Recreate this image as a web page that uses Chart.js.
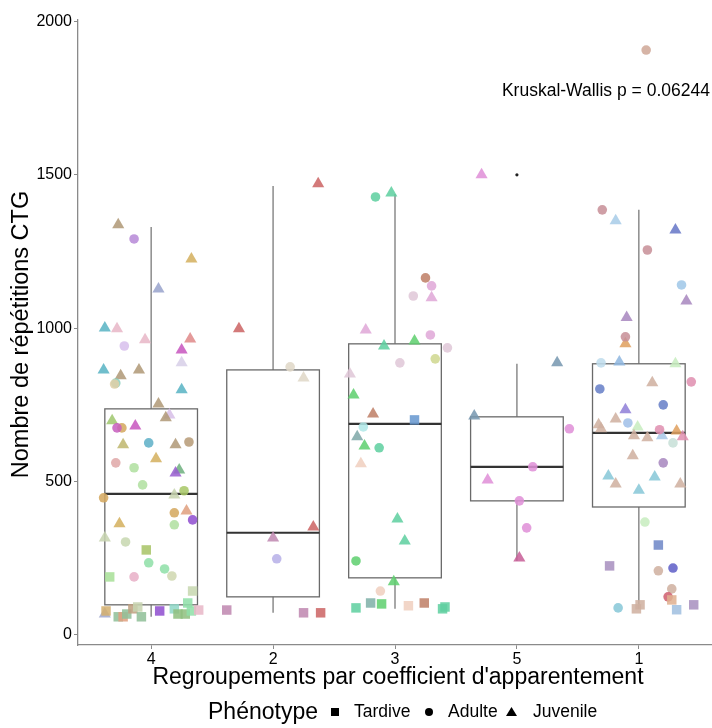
<!DOCTYPE html>
<html>
<head>
<meta charset="utf-8">
<script src="https://cdn.jsdelivr.net/npm/chart.js@4.4.1/dist/chart.umd.min.js"></script>
<style>
  html, body { margin: 0; padding: 0; background: #fff; }
  canvas { display: block; }
</style>
</head>
<body>
<canvas id="canvas" width="712" height="728"></canvas>
<script>
// groupes (ordre d'affichage) et statistiques des boites
var groupLabels = ['4', '2', '3', '5', '1'];
var boxLow = [59, 72, 85, 241, 85];
var boxQ1 = [98, 124, 186, 437, 417];
var boxMedian = [460, 333, 688, 548, 659];
var boxQ3 = [737, 864, 949, 711, 884];
var boxHigh = [1330, 1464, 1438, 884, 1386];
var outlierX = [4];
var outlierY = [1500];
var yTicks = [0, 500, 1000, 1500, 2000];

// Tardive (carres)
var tardiveX = [0.63, 0.73, 0.77, 0.80, 0.85, 0.89, 0.92, 1.07, 1.19, 1.22, 1.28, 1.30, 1.33, 1.39, 0.96, 0.66, 1.34,
  1.62, 2.25, 2.39,
  2.68, 2.80, 2.89, 3.11, 3.24, 3.39, 3.41, 3.16,
  5.16, 4.76, 5.27, 4.98, 5.01, 5.31, 5.45];
var tardiveY = [78, 59, 59, 68, 85, 91, 59, 78, 85, 68, 68, 104, 78, 81, 277, 189, 143,
  81, 72, 72,
  88, 104, 101, 95, 104, 85, 91, 701,
  293, 225, 114, 85, 98, 82, 98];
var tardiveColors = ['#d4b070', '#90c098', '#e0a080', '#90c098', '#c0a080', '#c8d4b0', '#90c098', '#9050d0', '#90d8c8', '#90c080', '#90c080', '#90e0a8', '#90e0a8', '#e8b8c8', '#a8c468', '#a8e098', '#c8d8b0',
  '#c088b0', '#c088b0', '#cc6666',
  '#60d0a0', '#80b0a8', '#60d070', '#f0d0c0', '#c08068', '#60d0a0', '#60d0a0', '#6898d0',
  '#7088c8', '#a890c0', '#e0b090', '#d0b0a0', '#d0b0a0', '#a0c0e0', '#a890c0'];

// Adulte (ronds)
var adulteX = [0.86, 0.78, 0.71, 0.70, 0.76, 0.72, 0.98, 1.31, 0.71, 0.86, 0.93, 1.27, 0.61, 1.19, 1.34, 1.19, 0.79, 0.98, 1.11, 1.17, 0.86,
  2.14, 2.03,
  2.84, 3.25, 3.30, 3.15, 3.29, 3.43, 3.04, 3.33, 2.74, 2.87, 2.68, 2.88,
  4.43, 4.13, 4.02, 4.08,
  5.06, 4.70, 5.07, 5.35, 4.89, 4.69, 5.43, 4.68, 5.20, 4.91, 5.17, 5.28, 5.20, 5.05, 5.16, 5.28, 5.27, 5.24, 4.83];
var adulteY = [1291, 942, 821, 818, 675, 675, 626, 629, 561, 545, 489, 470, 447, 398, 375, 359, 303, 235, 215, 192, 189,
  874, 248,
  1428, 1164, 1138, 1105, 978, 936, 887, 900, 678, 610, 241, 143,
  672, 548, 437, 349,
  1907, 1386, 1255, 1141, 972, 887, 825, 802, 750, 691, 669, 626, 561, 368, 209, 218, 150, 124, 88];
var adulteColors = ['#b88ad8', '#d8c0ec', '#88d0c0', '#e0d0a8', '#d4a860', '#c860c0', '#60b0c8', '#b89c78', '#e0a8a8', '#b0e0a0', '#b0e0a0', '#a8c868', '#d4a860', '#d4a860', '#9050d0', '#b0e0a0', '#c8d8b0', '#90e0a8', '#90e0a8', '#d0d8b0', '#e8b0c8',
  '#e0d8c8', '#b8b0e8',
  '#60d0a0', '#c08068', '#e0a8d8', '#e0c8d8', '#e0a8d8', '#e0c8d8', '#e0c8d8', '#d0d890', '#b0e8e8', '#60d0a0', '#60d070', '#f0d0c0',
  '#e090d8', '#e090d8', '#e090d8', '#e090d8',
  '#d0a898', '#c89098', '#c89098', '#a0c8e8', '#c89098', '#c0dcec', '#e090b0', '#6880c8', '#6880c8', '#a0c0e8', '#e090b0', '#c8e0d8', '#a888c0', '#c8ecc0', '#d0b0a0', '#6060c8', '#d0b0a0', '#d06070', '#88c8d8'];

// Juvenile (triangles)
var juvenileX = [0.73, 1.33, 1.06, 0.62, 0.72, 0.95, 1.32, 1.25, 1.25, 0.61, 0.75, 0.90, 1.25, 1.06, 1.15, 1.12, 0.68, 0.87, 0.77, 1.20, 1.04, 1.23, 1.20, 1.19, 1.29, 0.74, 0.62, 0.62,
  2.37, 1.72, 2.25, 2.33, 2.00,
  2.97, 2.76, 2.91, 3.16, 3.30, 2.63, 2.66, 2.82, 2.69, 2.75, 2.72, 3.02, 3.08, 2.99,
  3.71, 4.33, 3.65, 3.76, 4.02,
  4.81, 5.30, 5.39, 4.90, 4.89, 4.84, 5.30, 5.11, 4.89, 4.81, 4.67, 4.69, 4.99, 5.31, 5.36, 5.19, 4.96, 5.07, 4.95, 4.75, 5.13, 4.81, 5.34, 5.00];
var juvenileY = [1337, 1226, 1128, 1001, 998, 962, 965, 929, 887, 864, 845, 864, 799, 753, 717, 708, 698, 681, 620, 620, 574, 538, 528, 456, 404, 362, 316, 68,
  1471, 998, 838, 352, 316,
  1441, 994, 942, 958, 1099, 851, 782, 720, 646, 616, 558, 378, 306, 173,
  1500, 887, 714, 505, 251,
  1350, 1320, 1089, 1035, 949, 890, 884, 822, 734, 704, 685, 672, 678, 665, 646, 649, 649, 643, 584, 518, 515, 492, 492, 472];
var juvenileColors = ['#b09a78', '#d4b060', '#9aa4cc', '#5ab4c4', '#e8b8c8', '#e8b8c8', '#e08a8a', '#c858c0', '#d8d0e8', '#5ab4c4', '#b09a78', '#b09a78', '#5ab4c4', '#b09a78', '#d8c0e8', '#b09a78', '#a0c870', '#c858c0', '#c0b870', '#b09a78', '#d4b060', '#70b080', '#9a60d0', '#c8d4b0', '#e0a080', '#d4b060', '#c8d4b0', '#a0a8d0',
  '#cc6666', '#cc6666', '#e0d8c8', '#cc6666', '#c088b0',
  '#60d0a0', '#e0a8d8', '#60d0a0', '#60d070', '#e0a8d8', '#e0c8d8', '#60d070', '#c08068', '#80a8a8', '#60d070', '#f0d0c0', '#60d0a0', '#60d0a0', '#60d070',
  '#e090d8', '#7898b0', '#7898b0', '#e090d8', '#c86098',
  '#a8cce8', '#6878c8', '#a888c0', '#a888c0', '#e0a060', '#90b8e0', '#c8ecc0', '#d0b0a0', '#9080d8', '#d0b0a0', '#d0b0a0', '#d0b0a0', '#c8ecc0', '#e0a060', '#e090b0', '#a8c8e8', '#d0b0a0', '#d0b0a0', '#d0b0a0', '#88c8d8', '#88c8d8', '#d0b0a0', '#d0b0a0', '#88c8d8'];

var testLabel = 'Kruskal-Wallis p = 0.06244';
var testX = 3.877, testY = 1774;

var FONT = 'Liberation Sans, Arial, sans-serif';

function toPoints(xs, ys) {
  return xs.map(function (x, i) { return {x: x, y: ys[i]}; });
}
function fade(list) {
  return list.map(function (c) { return c + 'dd'; });
}
function noPadding(scale) {
  scale.paddingLeft = 0;
  scale.paddingRight = 0;
  scale.paddingTop = 0;
  scale.paddingBottom = 0;
}

// boites a moustaches sous les points
var boxPlugin = {
  id: 'boxes',
  beforeDatasetsDraw: function (chart) {
    var ctx = chart.ctx, xs = chart.scales.x, ys = chart.scales.y;
    ctx.save();
    for (var i = 0; i < boxMedian.length; i++) {
      var pos = i + 1;
      var l = xs.getPixelForValue(pos - 0.38), r = xs.getPixelForValue(pos + 0.38), c = xs.getPixelForValue(pos);
      ctx.strokeStyle = '#7a7a7a';
      ctx.lineWidth = 1.3;
      ctx.beginPath();
      ctx.moveTo(c, ys.getPixelForValue(boxHigh[i]));
      ctx.lineTo(c, ys.getPixelForValue(boxQ3[i]));
      ctx.moveTo(c, ys.getPixelForValue(boxQ1[i]));
      ctx.lineTo(c, ys.getPixelForValue(boxLow[i]));
      ctx.stroke();
      var top = ys.getPixelForValue(boxQ3[i]), bot = ys.getPixelForValue(boxQ1[i]);
      ctx.strokeStyle = '#6a6a6a';
      ctx.strokeRect(l, top, r - l, bot - top);
      ctx.strokeStyle = '#333';
      ctx.lineWidth = 2.2;
      ctx.beginPath();
      var m = ys.getPixelForValue(boxMedian[i]);
      ctx.moveTo(l, m);
      ctx.lineTo(r, m);
      ctx.stroke();
    }
    ctx.restore();
  },
  afterDraw: function (chart) {
    var ctx = chart.ctx, xs = chart.scales.x, ys = chart.scales.y, area = chart.chartArea;
    ctx.save();
    ctx.fillStyle = '#000';
    ctx.textBaseline = 'middle';
    ctx.textAlign = 'left';
    ctx.font = '17.5px ' + FONT;
    ctx.fillText(testLabel, xs.getPixelForValue(testX), ys.getPixelForValue(testY));

    ctx.textAlign = 'center';
    ctx.font = '23px ' + FONT;
    ctx.fillText("Regroupements par coefficient d'apparentement", (area.left + area.right) / 2 + 3, 678);

    ctx.save();
    ctx.translate(22, (area.top + area.bottom) / 2 + 2);
    ctx.rotate(-Math.PI / 2);
    ctx.font = '23.5px ' + FONT;
    ctx.fillText('Nombre de répétitions CTG', 0, 0);
    ctx.restore();

    // legende des phenotypes
    var ly = 712;
    ctx.textAlign = 'left';
    ctx.font = '23px ' + FONT;
    ctx.fillText('Phénotype', 208, ly + 1);
    ctx.font = '17.5px ' + FONT;
    ctx.fillRect(331, ly - 4, 8, 8);
    ctx.fillText('Tardive', 354, ly);
    ctx.beginPath();
    ctx.arc(429, ly, 4, 0, Math.PI * 2);
    ctx.fill();
    ctx.fillText('Adulte', 448, ly);
    ctx.beginPath();
    ctx.moveTo(511.5, ly - 5);
    ctx.lineTo(517, ly + 4);
    ctx.lineTo(506, ly + 4);
    ctx.closePath();
    ctx.fill();
    ctx.fillText('Juvenile', 533, ly);
    ctx.restore();
  }
};

var ctx = document.getElementById('canvas').getContext('2d');
window.myChart = new Chart(ctx, {
  type: 'scatter',
  data: {
    datasets: [{
      label: 'Tardive',
      data: toPoints(tardiveX, tardiveY),
      pointStyle: 'rect',
      pointRadius: 6.7,
      pointBackgroundColor: fade(tardiveColors),
      pointBorderWidth: 0
    }, {
      label: 'Adulte',
      data: toPoints(adulteX, adulteY),
      pointStyle: 'circle',
      pointRadius: 4.8,
      pointBackgroundColor: fade(adulteColors),
      pointBorderWidth: 0
    }, {
      label: 'Juvenile',
      data: toPoints(juvenileX, juvenileY),
      pointStyle: 'triangle',
      pointRadius: 7,
      pointBackgroundColor: fade(juvenileColors),
      pointBorderWidth: 0
    }, {
      label: 'outlier',
      data: toPoints(outlierX, outlierY),
      pointRadius: 1.6,
      pointBackgroundColor: '#222',
      pointBorderWidth: 0
    }]
  },
  options: {
    responsive: false,
    animation: false,
    devicePixelRatio: 1,
    layout: { autoPadding: false, padding: { top: 20, right: 0, left: 0, bottom: 0 } },
    plugins: { legend: { display: false }, tooltip: { enabled: false } },
    scales: {
      x: {
        type: 'linear',
        min: 0.4,
        max: 5.6,
        afterBuildTicks: function (scale) {
          scale.ticks = groupLabels.map(function (g, i) { return {value: i + 1}; });
        },
        afterFit: function (scale) { scale.height = 83; noPadding(scale); },
        ticks: {
          callback: function (v) { return groupLabels[v - 1]; },
          color: '#000',
          font: { family: FONT, size: 16 },
          padding: 1,
          maxRotation: 0
        },
        grid: { display: true, drawOnChartArea: false, tickLength: 4, color: '#8a8a8a' },
        border: { color: '#8a8a8a', width: 1.3 }
      },
      y: {
        min: -33,
        max: 2005,
        afterBuildTicks: function (scale) {
          scale.ticks = yTicks.map(function (v) { return {value: v}; });
        },
        afterFit: function (scale) { scale.width = 78; noPadding(scale); },
        ticks: {
          callback: function (v) { return String(v); },
          color: '#000',
          font: { family: FONT, size: 16 },
          padding: 2
        },
        grid: { display: true, drawOnChartArea: false, tickLength: 4, color: '#8a8a8a' },
        border: { color: '#8a8a8a', width: 1.3 }
      }
    }
  },
  plugins: [boxPlugin]
});
</script>
</body>
</html>
